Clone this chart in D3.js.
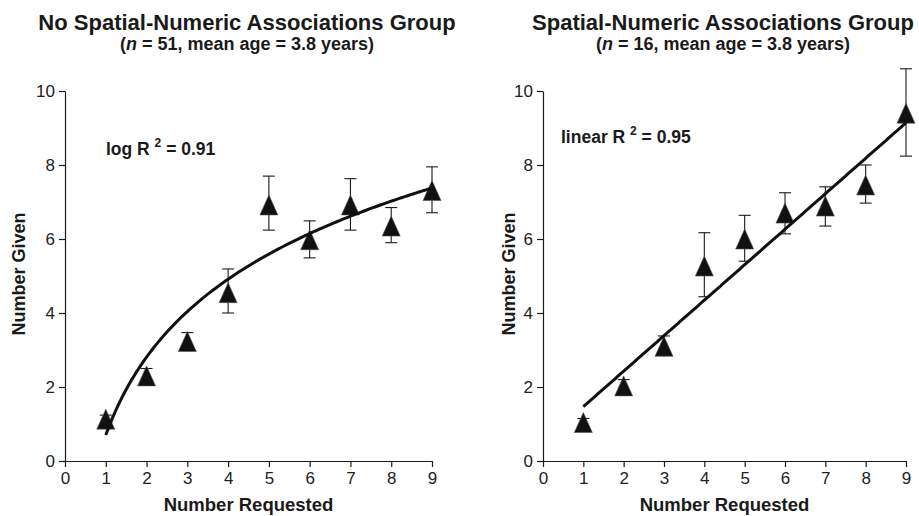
<!DOCTYPE html>
<html lang="en">
<head>
  <meta charset="UTF-8">
  <title>Number Given vs Number Requested</title>
  <script src="https://cdn.jsdelivr.net/npm/d3@7/dist/d3.min.js"></script>
  <style>
    body {
      margin: 0;
      background: #fff;
    }

    svg {
      display: block;
      font-family: 'Liberation Sans', Arial, sans-serif;
    }

    .axis path,
    .axis line {
      stroke: #1a1a1a;
      stroke-width: 1.2;
    }

    .axis text {
      font-size: 17px;
      fill: #222;
    }
  </style>
</head>
<body>
  <svg id="chart"></svg>

  <script>
    // x values shared by both panels
    const requested = [1, 2, 3, 4, 5, 6, 7, 8, 9];
    const xTicks = [0, 1, 2, 3, 4, 5, 6, 7, 8, 9];
    const yTicks = [0, 2, 4, 6, 8, 10];

    // No spatial-numeric associations group (means and error bar ends)
    const noSnaMean = [1.13, 2.3, 3.23, 4.55, 6.92, 5.98, 6.92, 6.35, 7.31];
    const noSnaLow = [1.0, 2.15, 3.1, 4.0, 6.24, 5.49, 6.24, 5.9, 6.71];
    const noSnaHigh = [1.24, 2.5, 3.47, 5.19, 7.7, 6.49, 7.63, 6.85, 7.95];

    // Spatial-numeric associations group
    const snaMean = [1.04, 2.03, 3.1, 5.27, 6.0, 6.7, 6.89, 7.46, 9.4];
    const snaLow = [0.92, 1.85, 2.95, 4.44, 5.4, 6.14, 6.35, 6.97, 8.24];
    const snaHigh = [1.15, 2.2, 3.38, 6.17, 6.64, 7.25, 7.41, 8.0, 10.6];

    // fitted trend lines (coefficients)
    const logFit = { a: 0.7, b: 3.04 };        // y = a + b ln(x)
    const linearFit = { a: 0.51, b: 0.959 };   // y = a + b x

    const width = 919, height = 516;
    const svg = d3.select("#chart").attr("width", width).attr("height", height);

    const panels = [
      {
        title: "No Spatial-Numeric Associations Group",
        n: "51",
        mean: noSnaMean, low: noSnaLow, high: noSnaHigh,
        fit: x => logFit.a + logFit.b * Math.log(x),
        fitLabel: "log R", r2: "0.91",
        left: 65, right: 432, center: 247,
        labelX: 106, labelY: 155, yTitleX: 25
      },
      {
        title: "Spatial-Numeric Associations Group",
        n: "16",
        mean: snaMean, low: snaLow, high: snaHigh,
        fit: x => linearFit.a + linearFit.b * x,
        fitLabel: "linear R", r2: "0.95",
        left: 543, right: 906, center: 723,
        labelX: 561, labelY: 143, yTitleX: 515
      }
    ];

    const triangle = "M0,-10L9,10L-9,10Z";
    const textColor = "#1a1a1a";

    panels.forEach(p => {
      const x = d3.scaleLinear().domain([0, 9]).range([p.left, p.right]);
      const y = d3.scaleLinear().domain([0, 10]).range([461, 91]);
      const g = svg.append("g");

      // titles
      g.append("text")
        .attr("x", p.center).attr("y", 30)
        .attr("text-anchor", "middle")
        .attr("font-size", 22).attr("font-weight", "bold").attr("fill", textColor)
        .text(p.title);

      const sub = g.append("text")
        .attr("x", p.center).attr("y", 50)
        .attr("text-anchor", "middle")
        .attr("font-size", 18).attr("font-weight", "bold").attr("fill", textColor);
      sub.append("tspan").text("(");
      sub.append("tspan").attr("font-style", "italic").text("n");
      sub.append("tspan").text(` = ${p.n}, mean age = 3.8 years)`);

      // axes
      g.append("g")
        .attr("class", "axis")
        .attr("transform", `translate(0,${y(0)})`)
        .call(d3.axisBottom(x).tickValues(xTicks).tickSize(6).tickSizeOuter(0).tickPadding(5));

      g.append("g")
        .attr("class", "axis")
        .attr("transform", `translate(${x(0)},0)`)
        .call(d3.axisLeft(y).tickValues(yTicks).tickSize(6).tickSizeOuter(0).tickPadding(4));

      // axis titles
      g.append("text")
        .attr("x", (x(0) + x(9)) / 2).attr("y", 511)
        .attr("text-anchor", "middle")
        .attr("font-size", 18.5).attr("font-weight", "bold").attr("fill", textColor)
        .text("Number Requested");

      g.append("text")
        .attr("transform", `translate(${p.yTitleX},274) rotate(-90)`)
        .attr("text-anchor", "middle")
        .attr("font-size", 18).attr("font-weight", "bold").attr("fill", textColor)
        .text("Number Given");

      // fit label with superscript
      const lbl = g.append("text")
        .attr("x", p.labelX).attr("y", p.labelY)
        .attr("font-size", 17.5).attr("font-weight", "bold").attr("fill", textColor);
      lbl.append("tspan").text(p.fitLabel + " ");
      lbl.append("tspan").attr("font-size", 12).attr("dy", -8).text("2");
      lbl.append("tspan").attr("dy", 8).text(" = " + p.r2);

      // error bars
      const bars = g.selectAll(".err").data(requested).enter().append("g").attr("class", "err");
      bars.append("line")
        .attr("x1", d => x(d)).attr("x2", d => x(d))
        .attr("y1", (d, i) => y(p.low[i])).attr("y2", (d, i) => y(p.high[i]))
        .attr("stroke", "#1a1a1a").attr("stroke-width", 1.1);
      [p.low, p.high].forEach(arr => {
        bars.append("line")
          .attr("x1", d => x(d) - 6).attr("x2", d => x(d) + 6)
          .attr("y1", (d, i) => y(arr[i])).attr("y2", (d, i) => y(arr[i]))
          .attr("stroke", "#1a1a1a").attr("stroke-width", 1.1);
      });

      // markers
      g.selectAll(".pt").data(requested).enter().append("path")
        .attr("class", "pt")
        .attr("d", triangle)
        .attr("transform", (d, i) => `translate(${x(d)},${y(p.mean[i])})`)
        .attr("fill", "#111")
        .attr("stroke", "#555").attr("stroke-width", 0.6);

      // fit line
      const fitPts = d3.range(1, 9.001, 0.05).map(v => [v, p.fit(v)]);
      g.append("path")
        .datum(fitPts)
        .attr("d", d3.line().x(d => x(d[0])).y(d => y(d[1])))
        .attr("fill", "none")
        .attr("stroke", "#111")
        .attr("stroke-width", 3);
    });
  </script>
</body>
</html>
